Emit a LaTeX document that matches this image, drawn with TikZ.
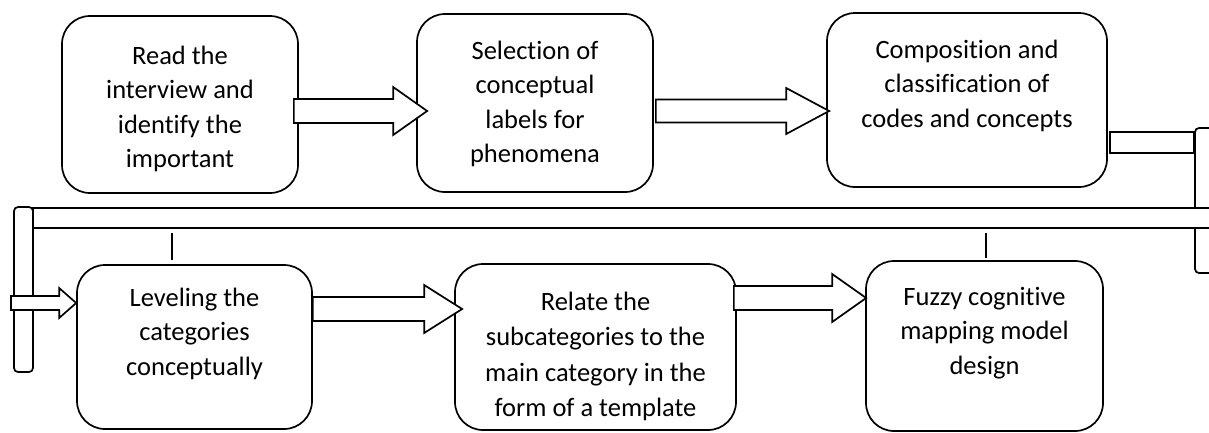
\documentclass[tikz,border=0pt]{standalone}
\usepackage{fontspec}
\setmainfont{Carlito}[Ligatures=NoCommon]
\usetikzlibrary{calc}
\begin{document}
\begin{tikzpicture}[x=1pt,y=-1pt,line width=1.7pt,
  stepbox/.style={draw,fill=white,rounded corners=28pt,inner sep=0pt},
  steptext/.style={anchor=north,align=center,inner sep=0pt,
    font=\fontsize{26.5}{34.5}\selectfont},
  bar/.style={draw,fill=white,inner sep=0pt,rounded corners=4pt},
  plainbar/.style={draw,fill=white,inner sep=0pt},
  blockarrow/.style n args={3}{draw,fill=white,line join=miter,
    to path={let \p1=(\tikztostart), \p2=(\tikztotarget) in
      (\x1,\y1+#1pt) -- (\x2-#3pt,\y1+#1pt) -- (\x2-#3pt,\y1+#2pt) -- (\x2,\y1)
      -- (\x2-#3pt,\y1-#2pt) -- (\x2-#3pt,\y1-#1pt) -- (\x1,\y1-#1pt) -- cycle}},
]
\useasboundingbox (0,0) rectangle (1209,432);

% return path from the first row to the second row
\node[bar,minimum width=35pt,minimum height=145pt] (vr) at (1212.5,200.5) {};
\node[plainbar,minimum width=84pt,minimum height=21pt] (c3) at (1152,142.5) {};
\node[plainbar,minimum width=1200pt,minimum height=20pt] (band) at (633,218) {};
\node[bar,minimum width=19pt,minimum height=165pt] (vl) at (23.5,289.5) {};

% short marks under the band
\coordinate (k1a) at (172,233); \coordinate (k1b) at (172,260);
\coordinate (k2a) at (986,233); \coordinate (k2b) at (986,258);
\draw (k1a) -- (k1b);
\draw (k2a) -- (k2b);

% first row
\node[stepbox,minimum width=236pt,minimum height=177pt] (b1) at (180,104.5) {};
\node[steptext] (t1) at ([yshift=-30pt]b1.north) {Read the\\interview and\\identify the\\important};
\node[stepbox,minimum width=236pt,minimum height=178pt] (b2) at (535,103) {};
\node[steptext] (t2) at ([yshift=-27pt]b2.north) {Selection of\\conceptual\\labels for\\phenomena};
\node[stepbox,minimum width=280pt,minimum height=174pt] (b3) at (967,100) {};
\node[steptext] (t3) at ([yshift=-27pt]b3.north) {Composition and\\classification of\\codes and concepts};

% second row
\node[stepbox,minimum width=235pt,minimum height=164pt] (b4) at (194.5,347) {};
\node[steptext] (t4) at ([yshift=-23pt]b4.north) {Leveling the\\categories\\conceptually};
\node[stepbox,minimum width=281pt,minimum height=166pt] (b5) at (595.5,347) {};
\node[steptext,font=\fontsize{26.5}{35.3}\selectfont] (t5) at ([yshift=-28pt]b5.north) {Relate the\\subcategories to the\\main category in the\\form of a template};
\node[stepbox,minimum width=237pt,minimum height=170pt] (b6) at (984.5,346) {};
\node[steptext] (t6) at ([yshift=-26pt]b6.north) {Fuzzy cognitive\\mapping model\\design};

% block arrows
\draw[blockarrow={12}{24}{34}] ([xshift=-5pt,yshift=-6.5pt]b1.east) to ([xshift=11pt]b2.west);
\draw[blockarrow={11.5}{23}{43}] ([xshift=2pt,yshift=-8pt]b2.east) to ([xshift=3pt]b3.west);
\coordinate (a0) at (11,303);
\draw[blockarrow={7}{15}{17}] (a0) to (b4.west);
\draw[blockarrow={12}{24}{38}] ([yshift=38pt]b4.east) to ([xshift=8pt]b5.west);
\draw[blockarrow={12}{24}{34}] ([xshift=-3pt,yshift=49pt]b5.east) to ([xshift=1pt]b6.west);
\end{tikzpicture}
\end{document}
